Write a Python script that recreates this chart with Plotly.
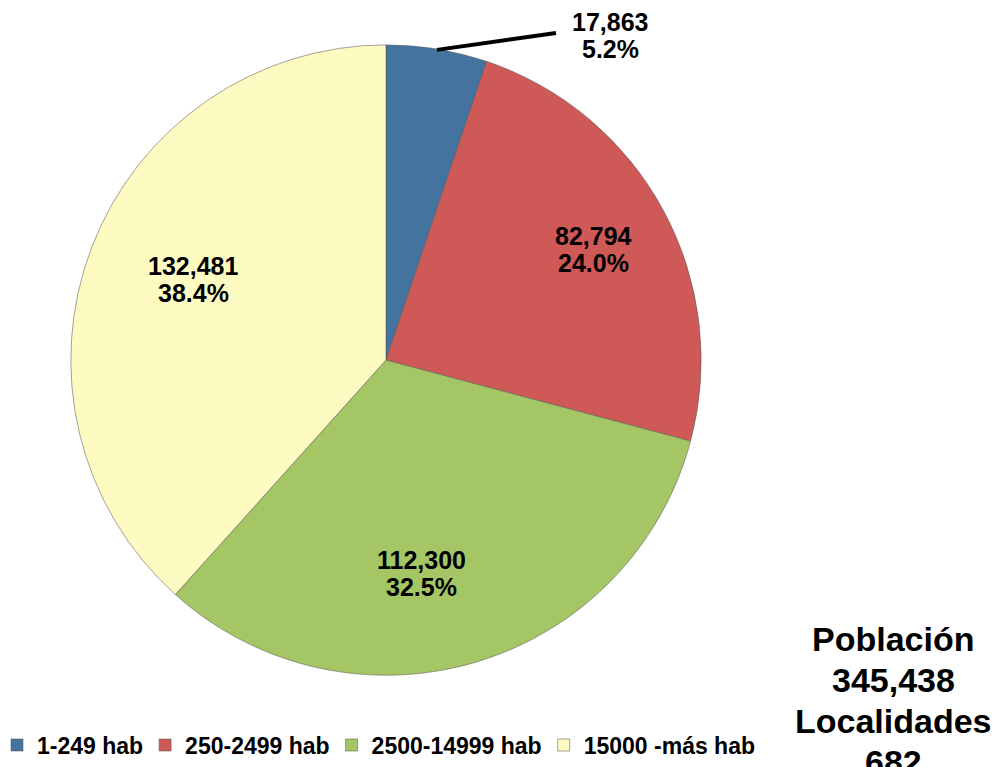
import plotly.graph_objects as go

categories = ["1-249 hab", "250-2499 hab", "2500-14999 hab", "15000 -más hab"]
values = [17863, 82794, 112300, 132481]
colors = ["#44739F", "#CF5957", "#A5C664", "#FDFAC2"]
total_label = "Población"
localidades_label = "Localidades"
localidades = 682

total = sum(values)
FONT = "Liberation Sans, Arial, sans-serif"

W, H = 1002, 767

def px_x(x):
    return x / W

def px_y(y):
    return (H - y) / H

fig = go.Figure()
fig.add_trace(go.Pie(
    labels=categories,
    values=values,
    sort=False,
    direction="clockwise",
    rotation=0,
    marker=dict(colors=colors, line=dict(color="rgba(90,90,90,0.55)", width=1)),
    textinfo="none",
    domain=dict(x=[px_x(70), px_x(702)], y=[px_y(677), px_y(45)]),
    hoverinfo="label+value+percent",
    showlegend=True,
))

# label anchor positions (pixels, centre of the two text lines)
label_pos = [(610, 36), (593, 250), (421, 575), (193, 280)]
LINE_GAP = 27
for v, (lx, ly) in zip(values, label_pos):
    for txt, yy in (("{:,}".format(v), ly - LINE_GAP / 2),
                    ("{:.1f}%".format(v / total * 100), ly + LINE_GAP / 2)):
        fig.add_annotation(
            x=px_x(lx), y=px_y(yy), xref="paper", yref="paper",
            xanchor="center", yanchor="middle",
            text="<b>" + txt + "</b>", showarrow=False,
            font=dict(family=FONT, size=25, color="black"),
        )

# leader line for the small slice
fig.add_shape(type="line", xref="paper", yref="paper",
              x0=px_x(437), y0=px_y(50), x1=px_x(556), y1=px_y(33),
              line=dict(color="black", width=4))

summary = [total_label, "{:,}".format(total), localidades_label, str(localidades)]
for i, txt in enumerate(summary):
    fig.add_annotation(
        x=px_x(893), y=px_y(641 + i * 41), xref="paper", yref="paper",
        xanchor="center", yanchor="middle",
        text="<b>" + txt + "</b>", showarrow=False,
        font=dict(family=FONT, size=34, color="black"),
    )

fig.update_layout(
    width=W, height=H,
    margin=dict(l=0, r=0, t=0, b=0),
    paper_bgcolor="white",
    plot_bgcolor="white",
    legend=dict(
        orientation="h",
        x=0.0, xanchor="left",
        y=px_y(747), yanchor="middle",
        font=dict(family=FONT, size=23, color="black", weight="bold"),
        itemwidth=30,
        indentation=-3,
        traceorder="normal",
    ),
)

fig.write_html("out.html", config={"displayModeBar": False},
               post_script="document.body.style.margin='0px';document.body.style.overflow='hidden';")
